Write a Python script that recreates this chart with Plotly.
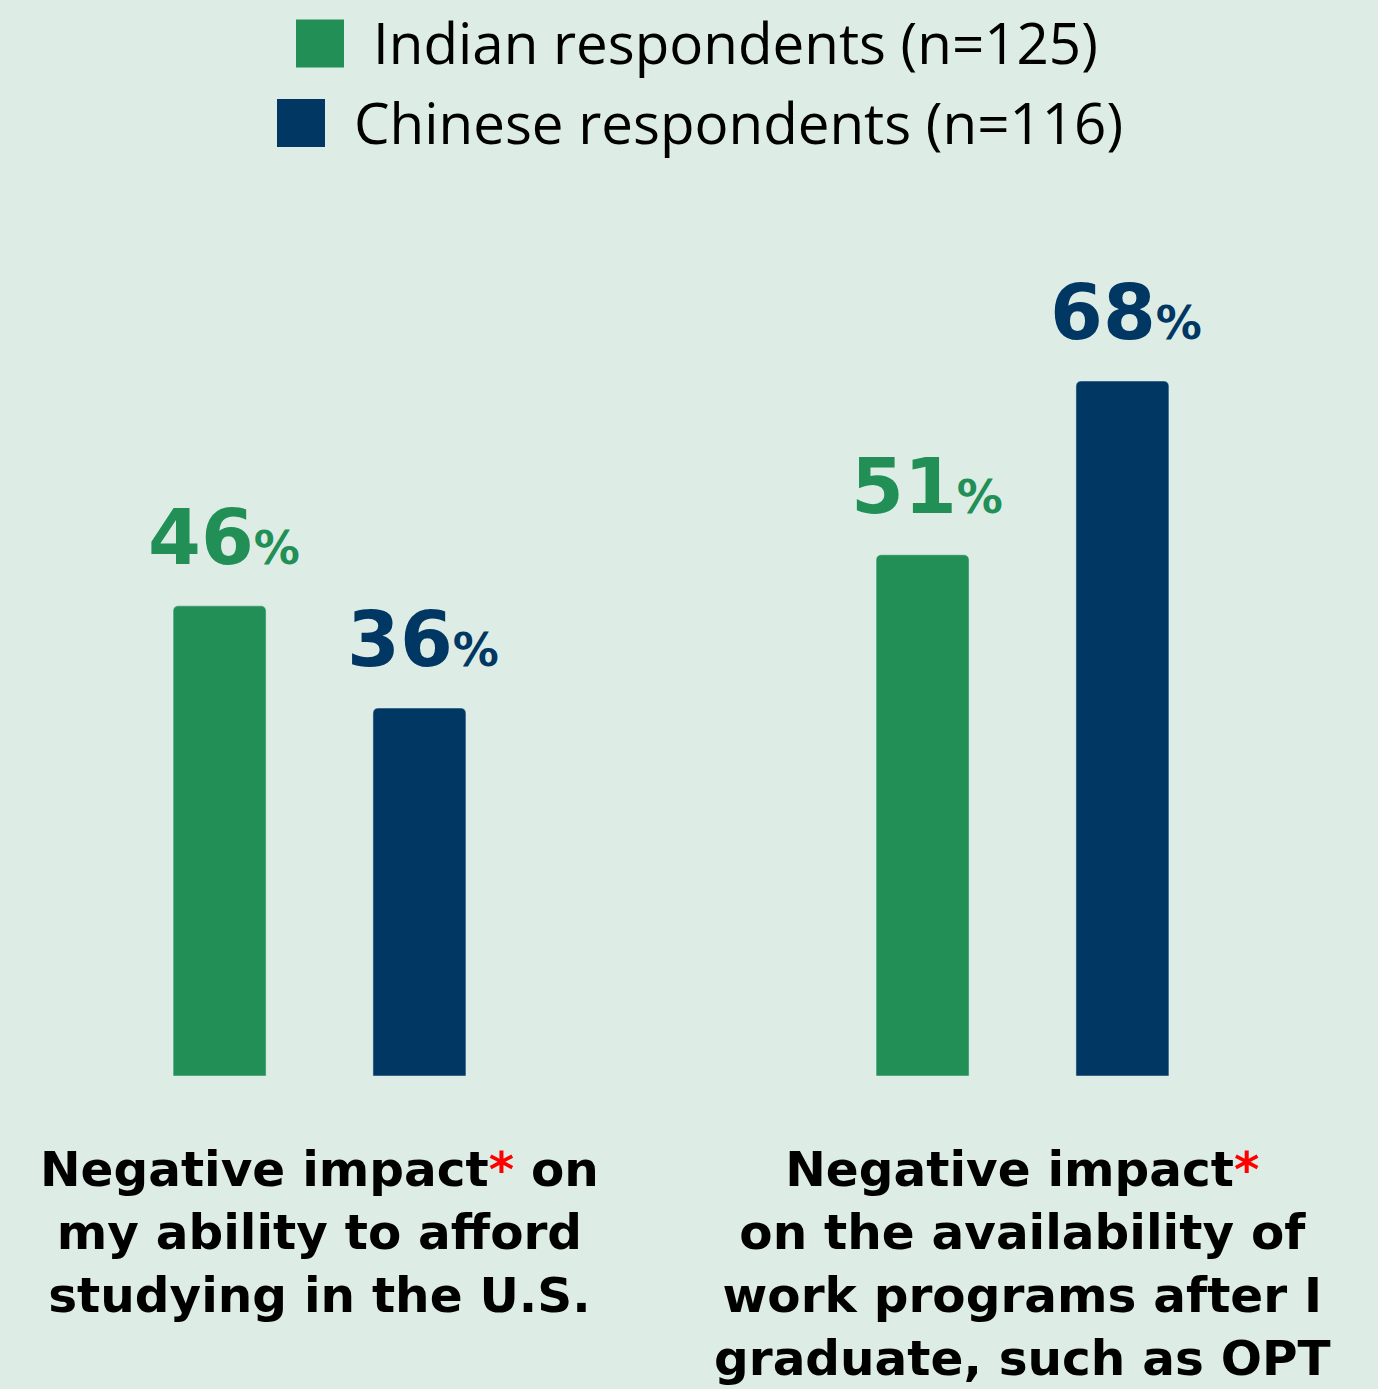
import plotly.graph_objects as go

categories = ["afford", "work"]
cat_labels = [
    "Negative impact<span style='color:#ff0000'>*</span> on<br>my ability to afford<br>studying in the U.S.",
    "Negative impact<span style='color:#ff0000'>*</span><br>on the availability of<br>work programs after I<br>graduate, such as OPT",
]
series_names = ["Indian respondents (n=125)", "Chinese respondents (n=116)"]
indian = [46, 51]
chinese = [36, 68]

GREEN = "#218f56"
NAVY = "#003763"
BG = "#ddede5"
FONT = "Open Sans"
LABEL_FONT = "DejaVu Sans"
W, H = 1378, 1389
PLOT_TOP, PLOT_BOTTOM = 200, 1076
PX_PER_CAT = 703

fig = go.Figure()
bar_w = 0.1323
offsets = [-0.2083, 0.0760]
for vals, col, off, name in [(indian, GREEN, offsets[0], series_names[0]),
                              (chinese, NAVY, offsets[1], series_names[1])]:
    fig.add_trace(go.Bar(x=categories, y=vals, name=name, marker_color=col,
                         width=bar_w, offset=off, showlegend=False,
                         hoverinfo="skip"))
    for c, v in zip(categories, vals):
        fig.add_annotation(x=c, y=v, xref="x", yref="y",
                           xshift=(off + bar_w / 2) * PX_PER_CAT + 4,
                           yanchor="bottom", yshift=22, showarrow=False,
                           text=f"<b>{v}</b><span style='font-size:46px'>%</span>",
                           font=dict(family=LABEL_FONT, size=76, color=col, weight=700))

# category labels
for c, lab in zip(categories, cat_labels):
    fig.add_annotation(x=c, xref="x", yref="paper", y=1 - 1139 / H, yanchor="top",
                       showarrow=False, text=lab, align="center",
                       font=dict(family=LABEL_FONT, size=48.5, color="#000000", weight=700))

# custom legend with large squares
legend_rows = [(296, 43.5, 371, GREEN, series_names[0]),
               (277, 123, 352, NAVY, series_names[1])]
for x0, yc, tx, col, name in legend_rows:
    fig.add_shape(type="rect", xref="paper", yref="paper",
                  x0=x0 / W, x1=(x0 + 48) / W,
                  y0=1 - (yc + 24) / H, y1=1 - (yc - 24) / H,
                  fillcolor=col, line_width=0, layer="above")
    fig.add_annotation(xref="paper", yref="paper", x=tx / W, y=1 - (yc - 1) / H,
                       xanchor="left", yanchor="middle", showarrow=False, text=name,
                       font=dict(family=FONT, size=56.5, color="#000000"))

fig.update_layout(
    width=W, height=H,
    paper_bgcolor=BG, plot_bgcolor=BG,
    margin=dict(l=0, r=0, t=0, b=0, pad=0),
    barmode="group", barcornerradius=5,
    xaxis=dict(range=[-0.4545, 1.5057], showticklabels=False, showgrid=False,
               zeroline=False, showline=False, ticks="", domain=[0, 1]),
    yaxis=dict(range=[0, 85.71], visible=False,
               domain=[1 - PLOT_BOTTOM / H, 1 - PLOT_TOP / H]),
    font=dict(family=FONT),
)

fig.write_html("out.html", config={"displayModeBar": False},
               post_script="document.body.style.margin='0';")
